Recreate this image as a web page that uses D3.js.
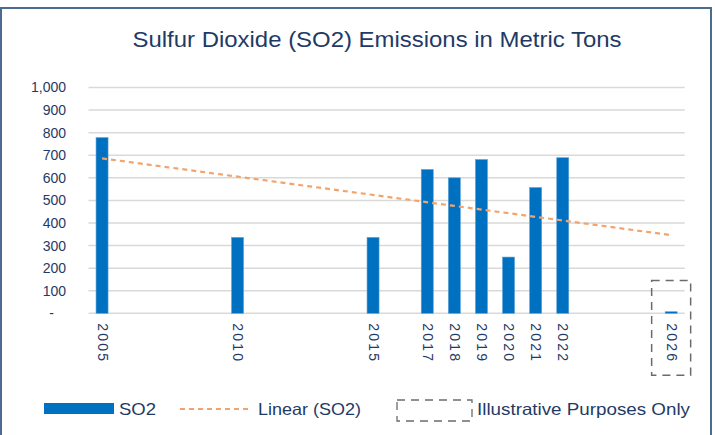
<!DOCTYPE html>
<html><head><meta charset="utf-8">
<script src="https://cdn.jsdelivr.net/npm/d3@7"></script>
<style>
html,body{margin:0;padding:0;background:#fff;}
svg{display:block;font-family:"Liberation Sans",Arial,sans-serif;}
</style></head>
<body>
<svg id="chart" width="715" height="435"></svg>
<script>
const years = [2005, 2010, 2015, 2017, 2018, 2019, 2020, 2021, 2022, 2026];
const so2 = [778, 336, 336, 637, 600, 681, 249, 557, 689, 7];
const yTicks = [0, 100, 200, 300, 400, 500, 600, 700, 800, 900, 1000];
const title = "Sulfur Dioxide (SO2) Emissions in Metric Tons";
const legendLabels = ["SO2", "Linear (SO2)", "Illustrative Purposes Only"];
const illustrativeYear = 2026;

const svg = d3.select("#chart");
const textColor = "#1f3a66";

// outer frame
svg.append("rect").attr("x", 1).attr("y", 8).attr("width", 710).attr("height", 440)
  .attr("fill", "#fff").attr("stroke", "#4d6a91").attr("stroke-width", 2);

svg.append("text").attr("x", 377).attr("y", 47).attr("text-anchor", "middle")
  .attr("font-size", 22).attr("fill", textColor)
  .attr("textLength", 489).attr("lengthAdjust", "spacingAndGlyphs").text(title);

const x = d3.scaleLinear().domain([2004.5, 2026.5]).range([88.5, 684.7]);
const y = d3.scaleLinear().domain([0, 1000]).range([313.3, 87.5]);

// gridlines
svg.append("g").selectAll("line").data(yTicks).join("line")
  .attr("x1", x.range()[0]).attr("x2", x.range()[1])
  .attr("y1", d => y(d)).attr("y2", d => y(d))
  .attr("stroke", "#d9d9d9").attr("stroke-width", 1.5);

// y axis
const yAxis = d3.axisLeft(y).tickValues(yTicks).tickSize(0).tickPadding(0)
  .tickFormat(d => d === 0 ? "-" : d3.format(",")(d));
const gy = svg.append("g").attr("transform", "translate(66,0)").call(yAxis);
gy.select(".domain").remove();
gy.selectAll("text").attr("font-size", 14).attr("fill", textColor)
  .attr("font-family", "Liberation Sans, Arial, sans-serif");
gy.selectAll(".tick").filter(d => d === 0).select("text").attr("dx", -12);

// bars
const bw = 12;
svg.append("g").selectAll("rect").data(years).join("rect")
  .attr("x", d => x(d) - bw / 2).attr("width", bw)
  .attr("y", (d, i) => y(so2[i])).attr("height", (d, i) => y(0) - y(so2[i]))
  .attr("fill", "#0070c0").attr("stroke", "#5aa0d8").attr("stroke-width", 0.6);

// x labels (rotated)
const xAxis = d3.axisBottom(x).tickValues(years).tickSize(0).tickFormat(d3.format("d"));
const gx = svg.append("g").attr("transform", `translate(0,${y(0)})`).call(xAxis);
gx.select(".domain").remove();
gx.selectAll("text").attr("font-size", 14).attr("fill", textColor)
  .attr("font-family", "Liberation Sans, Arial, sans-serif")
  .attr("letter-spacing", 2.2)
  .attr("text-anchor", "start").attr("dy", null)
  .attr("transform", "translate(-5,10) rotate(90)").attr("y", 0).attr("x", 0);

// linear trend (least squares of the series)
const mx = d3.mean(years), my = d3.mean(so2);
const slope = d3.sum(years, (d, i) => (d - mx) * (so2[i] - my)) / d3.sum(years, d => (d - mx) ** 2);
const trend = d => my + slope * (d - mx);
const ends = d3.extent(years);
svg.append("path")
  .attr("d", d3.line().x(d => x(d)).y(d => y(trend(d)))(ends))
  .attr("fill", "none").attr("stroke", "#f2a46e").attr("stroke-width", 2.2)
  .attr("stroke-dasharray", "5,4");

// illustrative box around 2026
svg.append("rect")
  .attr("x", x(illustrativeYear) - 19.5).attr("width", 39)
  .attr("y", y(145)).attr("height", (y(0) + 62) - y(145))
  .attr("fill", "none").attr("stroke", "#6b6b6b").attr("stroke-width", 1.5)
  .attr("stroke-dasharray", "8,6");

// legend
const lg = svg.append("g");
lg.append("rect").attr("x", 44).attr("y", 403).attr("width", 70).attr("height", 11).attr("fill", "#0070c0");
lg.append("text").attr("x", 119).attr("y", 415).attr("font-size", 16.5).attr("fill", textColor)
  .attr("textLength", 37).attr("lengthAdjust", "spacingAndGlyphs").text(legendLabels[0]);
lg.append("line").attr("x1", 180).attr("x2", 248).attr("y1", 409).attr("y2", 409)
  .attr("stroke", "#f2a46e").attr("stroke-width", 2).attr("stroke-dasharray", "5,4");
lg.append("text").attr("x", 258).attr("y", 415).attr("font-size", 16.5).attr("fill", textColor)
  .attr("textLength", 103).attr("lengthAdjust", "spacingAndGlyphs").text(legendLabels[1]);
lg.append("rect").attr("x", 397).attr("y", 400).attr("width", 75).attr("height", 21)
  .attr("fill", "none").attr("stroke", "#6b6b6b").attr("stroke-width", 1.3).attr("stroke-dasharray", "8,6");
lg.append("text").attr("x", 477).attr("y", 415).attr("font-size", 16.5).attr("fill", textColor)
  .attr("textLength", 213).attr("lengthAdjust", "spacingAndGlyphs").text(legendLabels[2]);
</script>
</body></html>
